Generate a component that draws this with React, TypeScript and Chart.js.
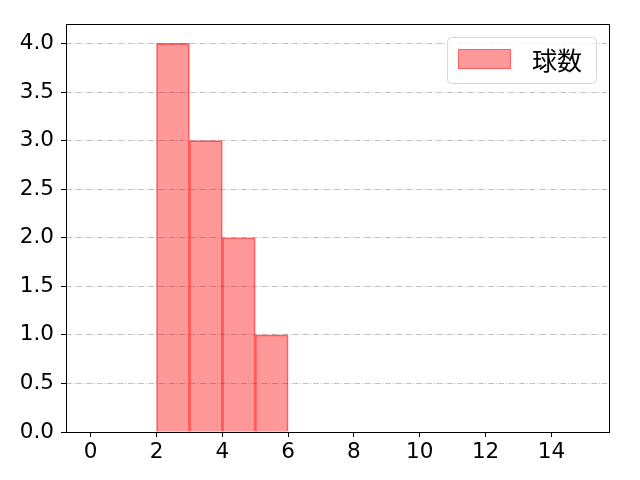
import React, { useEffect, useRef } from 'react';
import { Chart, registerables } from 'chart.js';

Chart.register(...registerables);

// histogram bins (left edges, width 1) and counts
const binStarts = [2, 3, 4, 5];
const binWidth = 1;
const counts = [4, 3, 2, 1];
const seriesLabel = '球数';

const xTicks = [0, 2, 4, 6, 8, 10, 12, 14];
const yTicks = [0, 0.5, 1, 1.5, 2, 2.5, 3, 3.5, 4];

const tickFont = { family: 'DejaVu Sans', size: 21.5 };

const framePlugin = {
  id: 'frame',
  afterDraw(chart: any) {
    const { ctx, chartArea } = chart;
    ctx.save();
    ctx.strokeStyle = '#000';
    ctx.lineWidth = 1;
    ctx.strokeRect(chartArea.left + 0.5, chartArea.top + 0.5, chartArea.right - chartArea.left, chartArea.bottom - chartArea.top);

    // legend in upper right
    const w = 149, h = 46;
    const x = chartArea.right - 13 - w;
    const y = chartArea.top + 13;
    ctx.beginPath();
    ctx.roundRect(x + 0.5, y + 0.5, w, h, 4);
    ctx.fillStyle = 'rgba(255,255,255,0.8)';
    ctx.fill();
    ctx.strokeStyle = '#d6d6d6';
    ctx.stroke();
    ctx.fillStyle = 'rgba(255,0,0,0.4)';
    ctx.fillRect(x + 11, y + 12, 53, 20);
    ctx.strokeStyle = 'rgba(255,0,0,0.35)';
    ctx.strokeRect(x + 11.5, y + 12.5, 52, 19);
    ctx.fillStyle = '#000';
    ctx.font = '25px "Noto Sans CJK JP"';
    ctx.textBaseline = 'middle';
    ctx.textAlign = 'left';
    ctx.fillText(seriesLabel, x + 85, y + 23);
    ctx.restore();
  },
};

const HistChart: React.FC = () => {
  const chartRef = useRef<HTMLCanvasElement | null>(null);

  useEffect(() => {
    if (!chartRef.current) return;
    const ctx = chartRef.current.getContext('2d');
    if (!ctx) return;

    const data = {
      datasets: [
        {
          label: seriesLabel,
          data: binStarts.map((b, i) => ({ x: b + binWidth / 2, y: counts[i] })),
          backgroundColor: 'rgba(255,0,0,0.4)',
          borderColor: 'rgba(255,0,0,0.55)',
          borderWidth: 1,
          barPercentage: 1,
          categoryPercentage: 1,
        },
      ],
    };

    const myChart = new Chart(ctx, {
      type: 'bar',
      data: data,
      options: {
        responsive: false,
        animation: false,
        layout: { padding: { top: 24, right: 31, left: 0, bottom: 0 } },
        plugins: { legend: { display: false }, tooltip: { enabled: false } },
        scales: {
          x: {
            type: 'linear',
            offset: false,
            min: -0.75,
            max: 15.75,
            afterBuildTicks: (axis: any) => {
              axis.ticks = xTicks.map((v) => ({ value: v }));
            },
            afterFit: (axis: any) => {
              axis.height = 48;
            },
            ticks: {
              color: '#000',
              font: tickFont,
              padding: 3,
              maxRotation: 0,
              callback: (v: any) => String(v),
            },
            grid: {
              offset: false,
              drawOnChartArea: false,
              drawTicks: true,
              tickLength: 5,
              tickColor: '#000',
            },
            border: { display: false },
          },
          y: {
            min: 0,
            max: 4.2,
            z: 1,
            afterBuildTicks: (axis: any) => {
              axis.ticks = yTicks.map((v) => ({ value: v }));
            },
            afterFit: (axis: any) => {
              axis.width = 66;
            },
            ticks: {
              color: '#000',
              font: tickFont,
              padding: 7,
              callback: (v: any) => Number(v).toFixed(1),
            },
            grid: {
              color: '#b0b0b0',
              lineWidth: 0.8,
              drawTicks: true,
              tickLength: 5,
              tickColor: '#000',
              tickWidth: 1,
            },
            border: { display: false, dash: [5.7, 1.8, 1, 1.8] },
          },
        },
      } as any,
      plugins: [framePlugin],
    });

    return () => {
      myChart.destroy();
    };
  }, []);

  return (
    <div style={{ position: 'fixed', left: 0, top: 0, width: 640, height: 480, background: '#fff' }}>
      <canvas ref={chartRef} width={640} height={480} style={{ width: 640, height: 480 }} />
    </div>
  );
};

export default function App() {
  return <HistChart />;
}
